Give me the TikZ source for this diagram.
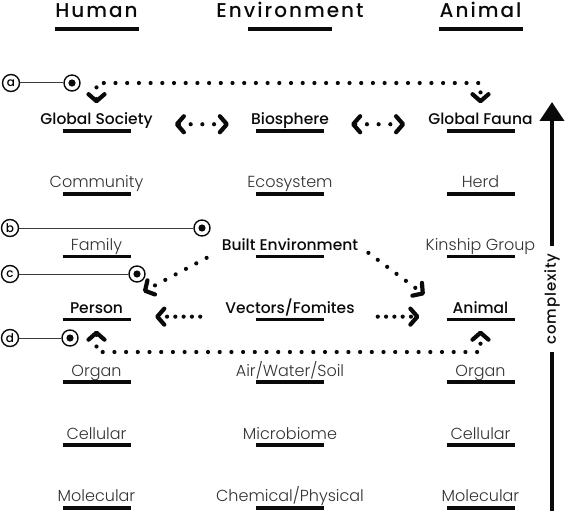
\documentclass[tikz,border=0pt]{standalone}
\usepackage{fontspec}
\setmainfont{Poppins}
\newfontfamily\lightfont{Poppins Light}
\newfontfamily\medfont{Poppins Medium}
\newfontfamily\titlefont{Poppins Medium}[LetterSpace=10]
\newfontfamily\axisfont{Poppins Medium}[LetterSpace=6]
\usetikzlibrary{arrows.meta, positioning, calc}
\definecolor{cInk}{RGB}{10,10,10}
\definecolor{cSoft}{RGB}{50,50,50}
\definecolor{cWire}{RGB}{60,60,60}
\tikzset{
  titlenode/.style={anchor=base, inner sep=2pt, text=cInk,
                    font=\titlefont\fontsize{20}{24}\selectfont},
  keynode/.style={anchor=base, inner sep=2pt, text=cInk,
                  text height=10.5pt, text depth=3pt,
                  font=\medfont\fontsize{15.5}{18}\selectfont},
  levelnode/.style={anchor=base, inner sep=2pt, text=cSoft,
                    font=\lightfont\fontsize{16}{19}\selectfont},
  bar/.style={line width=3.5pt, draw=cInk},
  titlebar/.style={line width=4pt, draw=cInk},
  tagnode/.style={circle, draw=cInk, line width=1.4pt, minimum size=17pt,
                  inner sep=0pt, font=\medfont\fontsize{12}{12}\selectfont},
  targetnode/.style={circle, draw=cInk, line width=1.4pt, minimum size=16pt,
                     inner sep=0pt, path picture={
                       \fill[cInk] (path picture bounding box.center) circle (3.6pt);}},
  leader/.style={line width=1pt, draw=cWire},
  dotlink/.style={line width=4.2pt, draw=cInk, line cap=round,
                  dash pattern=on 0pt off 11.7pt},
  densedots/.style={dash pattern=on 0pt off 8.3pt},
  onearrow/.style={dotlink, -{Straight Barb[length=7pt, width=16pt, round]}},
  twoarrow/.style={dotlink, {Straight Barb[length=7pt, width=16pt, round]}-{Straight Barb[length=7pt, width=16pt, round]}},
  risearrow/.style={line width=4pt, draw=cInk, -{Triangle[length=19pt, width=24pt]}},
  cplxnode/.style={rotate=90, fill=white, inner xsep=7pt, inner ysep=2pt,
                   text=cInk, font=\axisfont\fontsize{15}{17}\selectfont}
}
\begin{document}
\begin{tikzpicture}[x=1pt, y=-1pt]
  \useasboundingbox (0,0) rectangle (567,513);

  % column titles
  \node[titlenode] (human) at (96.5,18) {Human};
  \node[titlenode] (envir) at (290,18) {Environment};
  \node[titlenode] (anima) at (480.5,18) {Animal};
  \foreach \n in {human, envir, anima}
    \draw[titlebar] ([xshift=-42pt,yshift=-11.5pt]\n.base) -- ([xshift=42pt,yshift=-11.5pt]\n.base);

  % levels
  \node[keynode] (gsoc) at (96.5,125) {Global Society};
  \node[keynode] (bios) at (290,125) {Biosphere};
  \node[keynode] (gfau) at (480.5,125) {Global Fauna};

  \node[levelnode] (comm) at (96.5,187.8) {Community};
  \node[levelnode] (ecos) at (290,187.8) {Ecosystem};
  \node[levelnode] (herd) at (480.5,187.8) {Herd};

  \node[levelnode] (fami) at (96.5,250.6) {Family};
  \node[keynode] (built) at (290,250.6) {Built Environment};
  \node[levelnode] (kins) at (480.5,250.6) {Kinship Group};

  \node[keynode] (pers) at (96.5,313.4) {Person};
  \node[keynode] (vect) at (290,313.4) {Vectors/Fomites};
  \node[keynode] (anim) at (480.5,313.4) {Animal};

  \node[levelnode] (orgh) at (96.5,376.2) {Organ};
  \node[levelnode] (airw) at (290,376.2) {Air/Water/Soil};
  \node[levelnode] (orga) at (480.5,376.2) {Organ};

  \node[levelnode] (celh) at (96.5,439) {Cellular};
  \node[levelnode] (micr) at (290,439) {Microbiome};
  \node[levelnode] (cela) at (480.5,439) {Cellular};

  \node[levelnode] (molh) at (96.5,501.8) {Molecular};
  \node[levelnode] (chem) at (290,501.8) {Chemical/Physical};
  \node[levelnode] (mola) at (480.5,501.8) {Molecular};

  \foreach \n in {gsoc, bios, gfau, comm, ecos, herd, fami, built, kins,
                  pers, vect, anim, orgh, airw, orga, celh, micr, cela,
                  molh, chem, mola}
    \draw[bar] ([xshift=-34pt,yshift=-6pt]\n.base) -- ([xshift=34pt,yshift=-6pt]\n.base);

  % tags
  \node[tagnode] (taga) at (11,83) {a};
  \node[targetnode] (tgta) at (72,83) {};
  \node[tagnode] (tagb) at (10,228) {b};
  \node[targetnode] (tgtb) at (202,228) {};
  \node[tagnode] (tagc) at (10,274) {c};
  \node[targetnode] (tgtc) at (137,274) {};
  \node[tagnode] (tagd) at (10,338) {d};
  \node[targetnode] (tgtd) at (70,338) {};
  \draw[leader] (taga) -- (tgta);
  \draw[leader] (tagb) -- (tgtb);
  \draw[leader] (tagc) -- (tgtc);
  \draw[leader] (tagd) -- (tgtd);

  % global link (a)
  \coordinate (aline) at (0,83);
  \coordinate (gsoctop) at ([yshift=9pt]gsoc.north);
  \coordinate (gfautop) at ([yshift=9pt]gfau.north);
  \draw[twoarrow] (gsoctop) -- (gsoctop |- aline) -- (gfautop |- aline) -- (gfautop);
  \draw[twoarrow, shorten <=20pt, shorten >=20pt] ([yshift=-3pt]gsoc.east) -- ([yshift=-3pt]bios.west);
  \draw[twoarrow, shorten <=20pt, shorten >=21pt] ([yshift=-3pt]bios.east) -- ([yshift=-3pt]gfau.west);

  % built environment
  \draw[onearrow] ([xshift=-13pt,yshift=-11pt]built.west) -- ([xshift=18pt,yshift=9pt]pers.north east);
  \draw[onearrow] ([xshift=8pt,yshift=-6pt]built.east) -- ([xshift=-26pt,yshift=6pt]anim.north west);

  % vectors
  \draw[onearrow, densedots, shorten <=23pt, shorten >=30pt] ([yshift=-7pt]vect.west) -- ([yshift=-7pt]pers.east);
  \draw[onearrow, densedots, shorten <=21pt, shorten >=31pt] ([yshift=-7pt]vect.east) -- ([yshift=-7pt]anim.west);

  % person-animal link (d)
  \coordinate (dline) at (0,352);
  \coordinate (persbot) at ([yshift=-12pt]pers.south);
  \coordinate (animbot) at ([yshift=-12pt]anim.south);
  \draw[twoarrow] (persbot) -- (persbot |- dline) -- (animbot |- dline) -- (animbot);

  % complexity axis
  \coordinate (cbot) at (552,511);
  \coordinate (ctop) at (552,102);
  \draw[risearrow] (cbot) -- (ctop);
  \node[cplxnode] (cplx) at (552,299) {complexity};
\end{tikzpicture}
\end{document}
